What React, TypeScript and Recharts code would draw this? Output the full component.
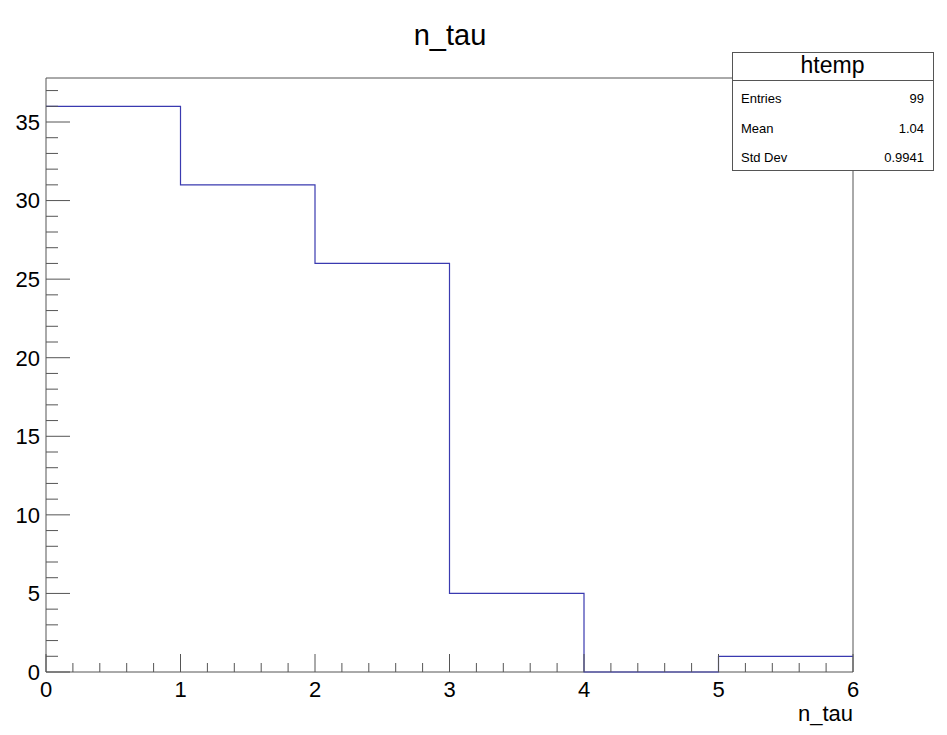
import { Line, LineChart, ReferenceArea, XAxis, YAxis } from "recharts";

const binEdges = [0, 1, 2, 3, 4, 5, 6];
const binCounts = [36, 31, 26, 5, 0, 1];

const xTicks = [
  0, 0.2, 0.4, 0.6, 0.8, 1, 1.2, 1.4, 1.6, 1.8, 2, 2.2, 2.4, 2.6, 2.8, 3, 3.2, 3.4, 3.6, 3.8, 4,
  4.2, 4.4, 4.6, 4.8, 5, 5.2, 5.4, 5.6, 5.8, 6,
];
const yTicks = [
  0, 1, 2, 3, 4, 5, 6, 7, 8, 9, 10, 11, 12, 13, 14, 15, 16, 17, 18, 19, 20, 21, 22, 23, 24, 25,
  26, 27, 28, 29, 30, 31, 32, 33, 34, 35, 36, 37,
];
const yMax = 37.8;

const statLabels = ["Entries", "Mean", "Std Dev"];
const statValues = ["99", "1.04", "0.9941"];

const FONT = "'Liberation Sans', Arial, Helvetica, sans-serif";
const FRAME = "#555";
const HIST = "#3a3ab0";

// step points: each edge carries the count of the bin to its right
const data = binEdges.map((x, i) => ({ x, y: binCounts[Math.min(i, binCounts.length - 1)] }));

function XTick(props: any) {
  const { x, y, payload } = props;
  const v = payload.value as number;
  const major = Math.abs(v - Math.round(v)) < 1e-6;
  return (
    <g>
      <line x1={x} x2={x} y1={y} y2={y - (major ? 18 : 9)} stroke={FRAME} />
      {major ? (
        <text x={x} y={y + 25} textAnchor="middle" fontSize={22} fontFamily={FONT} fill="#000">
          {Math.round(v)}
        </text>
      ) : null}
    </g>
  );
}

function YTick(props: any) {
  const { x, y, payload } = props;
  const v = payload.value as number;
  const major = v % 5 === 0;
  return (
    <g>
      <line x1={x} x2={x + (major ? 24 : 12)} y1={y} y2={y} stroke={FRAME} />
      {major ? (
        <text x={x - 6} y={y} dy="0.36em" textAnchor="end" fontSize={22} fontFamily={FONT} fill="#000">
          {v}
        </text>
      ) : null}
    </g>
  );
}

function StatsBox() {
  const left = 732;
  const top = 52;
  const w = 201;
  const h = 118;
  const rowY = [98, 128, 157];
  return (
    <g>
      <rect x={left + 0.5} y={top + 0.5} width={w} height={h} fill="#fff" stroke={FRAME} />
      <line x1={left} x2={left + w} y1={80.5} y2={80.5} stroke={FRAME} />
      <text x={left + w / 2} y={73} textAnchor="middle" fontSize={23} fontFamily={FONT} fill="#000">
        htemp
      </text>
      {statLabels.map((s, i) => (
        <g key={s}>
          <text x={741} y={rowY[i]} dy="0.36em" fontSize={13} fontFamily={FONT} fill="#000">
            {s}
          </text>
          <text x={924} y={rowY[i]} dy="0.36em" textAnchor="end" fontSize={13} fontFamily={FONT} fill="#000">
            {statValues[i]}
          </text>
        </g>
      ))}
    </g>
  );
}

export default function App() {
  return (
    <div style={{ position: "absolute", left: 0, top: 0, width: 947, height: 735, background: "#fff" }}>
      <LineChart width={947} height={735} data={data} margin={{ top: 78, right: 94, left: 0, bottom: 0 }}>
        <XAxis
          dataKey="x"
          type="number"
          domain={[0, 6]}
          ticks={xTicks}
          interval={0}
          height={63}
          tickSize={0}
          tickMargin={0}
          axisLine={false}
          tick={<XTick />}
        />
        <YAxis
          type="number"
          domain={[0, yMax]}
          ticks={yTicks}
          interval={0}
          width={46}
          tickSize={0}
          tickMargin={0}
          axisLine={false}
          tick={<YTick />}
        />
        <Line
          type="stepAfter"
          dataKey="y"
          stroke={HIST}
          strokeWidth={1.2}
          dot={false}
          activeDot={false}
          isAnimationActive={false}
        />
        <ReferenceArea x1={0} x2={6} y1={0} y2={yMax} fill="none" stroke={FRAME} strokeWidth={1} />
      </LineChart>
      <svg width={947} height={735} style={{ position: "absolute", left: 0, top: 0, pointerEvents: "none" }}>
        <text x={450} y={45} textAnchor="middle" fontSize={29} fontFamily={FONT} fill="#000">
          n_tau
        </text>
        <text x={853} y={721} textAnchor="end" fontSize={22} fontFamily={FONT} fill="#000">
          n_tau
        </text>
        <StatsBox />
      </svg>
    </div>
  );
}
